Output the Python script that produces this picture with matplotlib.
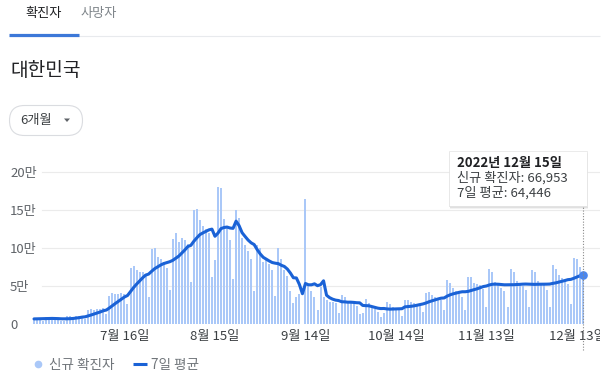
import matplotlib
matplotlib.use('Agg')
import matplotlib.pyplot as plt
import matplotlib.dates as mdates
import pandas as pd
from matplotlib.patches import FancyBboxPatch, Rectangle, Polygon
from matplotlib.lines import Line2D
from matplotlib.transforms import Bbox

plt.rcParams['font.family'] = ['Noto Sans CJK KR', 'DejaVu Sans']

# ---------------- data (thousands of people) ----------------
start_date = '2022-06-16'
daily_k = [
    7.9, 7.2, 6.1, 3.8, 9.3, 9.6, 7.5,
    7.2, 6.2, 4.4, 3.4, 9.9, 10.5, 9.5,
    10.7, 10.1, 9.5, 6.3, 18.1, 19.4, 18.5,
    19.3, 20.3, 20.4, 12.7, 37.4, 40.3, 39.2,
    38.9, 40.3, 40.1, 26.3, 73.6, 76.4, 71.2,
    68.6, 68.6, 65.4, 35.9, 99.3, 100.3, 88.4,
    85.3, 82.0, 73.6, 44.7, 111.8, 119.9, 107.9,
    112.9, 110.7, 105.5, 55.3, 149.9, 151.8, 137.2,
    128.7, 124.6, 119.6, 62.1, 84.1, 180.8, 178.6,
    138.8, 129.0, 110.7, 59.0, 150.5, 139.3, 113.4,
    104.0, 96.0, 85.3, 43.1, 104.0, 100.0, 82.0,
    87.0, 79.0, 71.0, 37.0, 100.0, 85.0, 71.0,
    63.0, 43.0, 27.0, 35.0, 40.0, 0.0, 165.0,
    51.0, 43.0, 36.0, 18.0, 49.0, 36.0, 32.0,
    29.0, 29.0, 27.0, 14.0, 38.0, 35.0, 29.0,
    29.0, 27.0, 24.0, 13.0, 14.0, 33.0, 28.0,
    22.0, 20.0, 16.0, 9.0, 15.0, 29.0, 26.0,
    23.0, 20.0, 18.0, 10.0, 32.0, 31.0, 29.0,
    27.0, 26.0, 24.0, 16.0, 41.0, 42.0, 38.0,
    36.0, 34.0, 31.0, 18.0, 58.0, 54.0, 47.0,
    43.0, 41.0, 36.0, 18.0, 62.0, 62.0, 54.0,
    52.0, 51.0, 46.0, 23.0, 72.0, 68.0, 55.0,
    51.0, 48.0, 44.0, 23.0, 72.0, 69.0, 56.0,
    53.0, 50.0, 45.0, 22.0, 71.0, 68.0, 57.0,
    53.0, 51.0, 45.0, 23.0, 77.0, 73.0, 64.0,
    60.0, 58.2, 53.0, 26.0, 87.0, 85.0, 75.0,
    66.953,
]
avg_k = [
    6.7, 6.8, 6.8, 6.9, 7.0, 7.2, 7.34,
    7.24, 7.10, 6.86, 6.80, 6.89, 7.01, 7.30,
    7.80, 8.36, 9.09, 9.50, 10.67, 11.94, 13.23,
    14.46, 15.91, 17.47, 18.39, 21.14, 24.13, 27.09,
    29.89, 32.74, 35.56, 37.50, 42.67, 47.83, 52.40,
    56.64, 60.69, 64.30, 65.67, 69.34, 72.76, 75.21,
    77.60, 79.51, 80.69, 81.94, 83.73, 86.53, 89.31,
    93.26, 97.36, 101.91, 103.43, 108.87, 113.43, 117.61,
    119.87, 121.86, 123.87, 124.84, 115.44, 119.59, 125.50,
    126.94, 127.57, 126.30, 125.86, 135.34, 129.41, 120.10,
    115.13, 110.41, 106.79, 104.51, 97.87, 92.26, 87.77,
    85.34, 82.91, 80.87, 80.00, 79.43, 77.29, 75.71,
    72.29, 67.14, 60.86, 60.57, 52.00, 39.86, 53.29,
    51.57, 51.57, 52.86, 50.43, 51.71, 56.86, 37.86,
    34.71, 32.71, 31.43, 30.86, 29.29, 29.14, 28.71,
    28.71, 28.43, 28.00, 27.86, 24.43, 24.14, 24.00,
    23.00, 22.00, 20.86, 20.29, 20.43, 19.86, 19.57,
    19.71, 19.71, 20.00, 20.14, 22.57, 22.86, 23.29,
    23.86, 24.71, 25.57, 26.43, 27.71, 29.29, 30.57,
    31.86, 33.00, 34.00, 34.29, 36.71, 38.43, 39.71,
    40.71, 41.71, 42.43, 42.43, 43.00, 44.14, 45.14,
    46.43, 47.86, 49.29, 50.00, 51.43, 52.29, 52.43,
    52.29, 51.86, 51.57, 51.57, 51.57, 51.71, 51.86,
    52.14, 52.43, 52.57, 52.43, 52.29, 52.14, 52.29,
    52.29, 52.43, 52.43, 52.57, 53.43, 54.14, 55.14,
    56.14, 57.17, 58.31, 58.74, 60.17, 61.89, 63.46,
    64.446,
]
ytick_values = [0, 50000, 100000, 150000, 200000]
ytick_labels = ['0', '5만', '10만', '15만', '20만']
xtick_dates = ['2022-07-16', '2022-08-15', '2022-09-14', '2022-10-14', '2022-11-13', '2022-12-13']
xtick_labels = ['7월 16일', '8월 15일', '9월 14일', '10월 14일', '11월 13일', '12월 13일']
tabs = ['확진자', '사망자']
region_title = '대한민국'
range_label = '6개월'
tooltip_title = '2022년 12월 15일'
tooltip_new = '신규 확진자: 66,953'
tooltip_avg = '7일 평균: 64,446'
legend_labels = ['신규 확진자', '7일 평균']

# ---------------- figure ----------------
W, H = 611, 375
fig = plt.figure(figsize=(W / 100, H / 100), dpi=100)
fig.patch.set_facecolor('white')

dates = pd.date_range(start_date, periods=len(daily_k), freq='D')
daily = [v * 1000 for v in daily_k]
avg = [v * 1000 for v in avg_k]

ax_left, ax_right, ax_bottom, ax_top = 30, 600, 324, 160
ax = fig.add_axes([ax_left / W, 1 - ax_bottom / H, (ax_right - ax_left) / W, (ax_bottom - ax_top) / H])
ax.set_facecolor('none')

px_per_day = 3.016
d0 = mdates.date2num(dates[0])
ax.set_xlim(d0 - (34 - ax_left) / px_per_day, d0 + (ax_right - 34) / px_per_day)
px_per_unit = 7.6 / 10000
ax.set_ylim(0, (ax_bottom - ax_top) / px_per_unit)

for yv in ytick_values[1:]:
    ax.axhline(yv, xmin=(42 - ax_left) / (ax_right - ax_left), xmax=1, color='#ebebeb', lw=0.8, zorder=0)

ax.bar(dates, daily, width=2.0 / px_per_day, color='#aac8f8', zorder=1, linewidth=0)
ax.plot(dates, avg, color='#1a62d6', lw=2.2, zorder=3, solid_joinstyle='round', solid_capstyle='round')
ax.plot(dates[-1:], avg[-1:], 'o', ms=5.2, color='#4a86ee', zorder=4)

# dotted hover line
ax.axvline(dates[-1], ymin=(ax_bottom - 350) / (ax_bottom - ax_top), ymax=(ax_bottom - 206) / (ax_bottom - ax_top),
           color='#8a8a8a', lw=0.8, ls=(0, (1, 1.5)), clip_on=False, zorder=6)

for s in ax.spines.values():
    s.set_visible(False)

ax.set_yticks(ytick_values, ytick_labels)
ax.tick_params(axis='y', length=0, pad=(ax_left - 10) * 0.72, labelsize=9.5, labelcolor='#5f6368')
for t in ax.get_yticklabels():
    t.set_horizontalalignment('left')

ax.set_xticks(pd.to_datetime(xtick_dates), xtick_labels)
ax.tick_params(axis='x', length=0, pad=4.2, labelsize=9.5, labelcolor='#3c4043')
clip = Bbox([[0, 0], [600, H]])
for t in ax.get_xticklabels():
    t.set_clip_on(True)
    t.set_clip_box(clip)

# ---------------- overlay (page chrome, in pixels) ----------------
ov = fig.add_axes([0, 0, 1, 1], zorder=5)
ov.set_xlim(0, W)
ov.set_ylim(H, 0)
ov.axis('off')
ov.patch.set_alpha(0)

ov.text(25.5, 13, tabs[0], fontsize=9.5, color='#202124', va='center', ha='left')
ov.text(81, 13, tabs[1], fontsize=9.5, color='#80868b', va='center', ha='left')
ov.plot([9, 600], [36, 36], color='#e8eaed', lw=0.8, solid_capstyle='butt')
ov.plot([9, 79], [35, 35], color='#3c78d8', lw=2.3, solid_capstyle='butt')

ov.text(10, 70, region_title, fontsize=13.8, color='#202124', va='center', ha='left')

ov.add_patch(FancyBboxPatch((9.5, 105.5), 73, 30, boxstyle='round,pad=0,rounding_size=15',
                            fc='white', ec='#dadce0', lw=0.8))
ov.text(20, 120.5, range_label, fontsize=9.5, color='#3c4043', va='center', ha='left')
ov.add_patch(Polygon([(64, 118.5), (70, 118.5), (67, 122)], closed=True, fc='#5f6368', ec='none'))

# tooltip
for off, a in [(2.5, 0.05), (1.5, 0.07), (0.8, 0.08)]:
    ov.add_patch(Rectangle((449 + off * 0.5, 151 + off), 138, 55, fc='black', ec='none', alpha=a, zorder=7))
ov.add_patch(Rectangle((449, 151), 138, 55, fc='white', ec='#e3e3e3', lw=0.5, zorder=8))
ov.text(457, 163, tooltip_title, fontsize=9.5, fontweight='bold', color='#202124', va='center', ha='left', zorder=9)
ov.text(457, 178, tooltip_new, fontsize=9.5, color='#3c4043', va='center', ha='left', zorder=9)
ov.text(457, 193, tooltip_avg, fontsize=9.5, color='#3c4043', va='center', ha='left', zorder=9)

# legend
handles = [
    Line2D([0], [0], marker='o', ls='none', markersize=4.5, mfc='#aac8f8', mec='#aac8f8'),
    Line2D([0], [0], color='#1a62d6', lw=2.2, solid_capstyle='butt'),
]
leg = fig.legend(handles, legend_labels, loc='center left', bbox_to_anchor=(31 / W, 1 - 365 / H),
                 ncol=2, frameon=False, fontsize=9.8, handlelength=1.05, handletextpad=0.3,
                 columnspacing=1.3, borderpad=0, borderaxespad=0)
for t in leg.get_texts():
    t.set_color('#70757a')

fig.savefig('out.png', dpi=100, facecolor='white')
